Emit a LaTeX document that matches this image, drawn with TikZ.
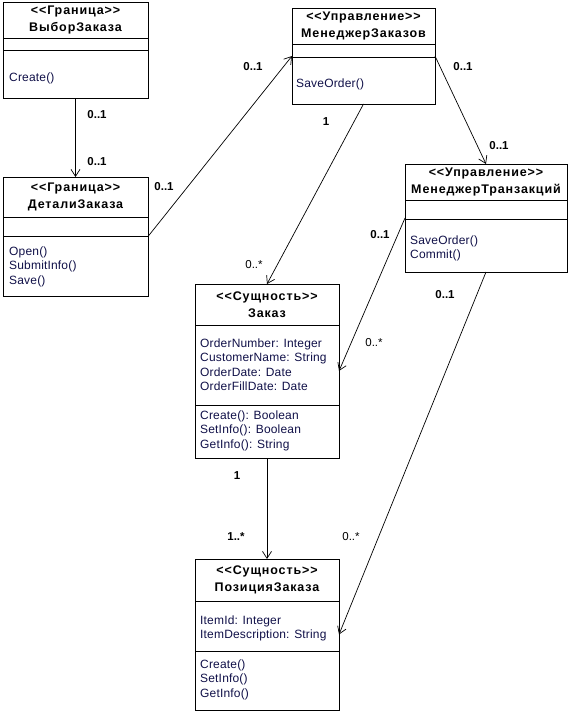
\documentclass[tikz,border=0pt]{standalone}
\usepackage{fontspec}
\setmainfont{Liberation Sans}
\newfontfamily\headfont[LetterSpace=7]{Liberation Sans}
\newfontfamily\memberfont[LetterSpace=1.5]{Liberation Sans}
\usepackage{xcolor}
\usetikzlibrary{arrows.meta, positioning, calc}
\definecolor{membertext}{RGB}{16,16,72}
\newcommand{\stereo}[1]{<{}<#1>{}>}

\begin{document}
\begin{tikzpicture}[x=1pt, y=-1pt,
        cls/.style={draw, line width=1pt, inner sep=0pt, outer sep=0pt},
        head/.style={align=center, font=\headfont\bfseries\fontsize{12.5}{17}\selectfont, inner sep=0pt},
        members/.style={anchor=north west, align=left, text=membertext, font=\memberfont\fontsize{12}{14.5}\selectfont, inner sep=0pt},
        mult/.style={font=\bfseries\fontsize{11.5}{13}\selectfont, inner sep=0pt},
        multlight/.style={font=\fontsize{11.5}{13}\selectfont, inner sep=0pt},
        assoc/.style={line width=0.7pt, -{Straight Barb[length=7pt, width=9pt]}}]
        \useasboundingbox (0,0) rectangle (569,712);

        \node[cls, minimum width=145pt, minimum height=96pt] at (75.5,50) (vz) {};
        \node[cls, minimum width=145pt, minimum height=119pt] at (75.5,236.5) (dz) {};
        \node[cls, minimum width=143pt, minimum height=96pt] at (363.5,56) (mz) {};
        \node[cls, minimum width=162pt, minimum height=108pt] at (486,218) (mt) {};
        \node[cls, minimum width=144pt, minimum height=174pt] at (267,371) (zk) {};
        \node[cls, minimum width=144pt, minimum height=151pt] at (267,634.5) (pz) {};

        \draw[line width=1pt] (vz.west |- 0,38) -- (vz.east |- 0,38);
        \draw[line width=1pt] (vz.west |- 0,50) -- (vz.east |- 0,50);
        \draw[line width=1pt] (dz.west |- 0,217) -- (dz.east |- 0,217);
        \draw[line width=1pt] (dz.west |- 0,236) -- (dz.east |- 0,236);
        \draw[line width=1pt] (mz.west |- 0,44) -- (mz.east |- 0,44);
        \draw[line width=1pt] (mz.west |- 0,57) -- (mz.east |- 0,57);
        \draw[line width=1pt] (mt.west |- 0,200) -- (mt.east |- 0,200);
        \draw[line width=1pt] (mt.west |- 0,219) -- (mt.east |- 0,219);
        \draw[line width=1pt] (zk.west |- 0,325) -- (zk.east |- 0,325);
        \draw[line width=1pt] (zk.west |- 0,405) -- (zk.east |- 0,405);
        \draw[line width=1pt] (pz.west |- 0,601) -- (pz.east |- 0,601);
        \draw[line width=1pt] (pz.west |- 0,651) -- (pz.east |- 0,651);

        \node[head] at (75.5,20) (vzh) {\stereo{Граница}\\ВыборЗаказа};
        \node[head] at (75.5,197) (dzh) {\stereo{Граница}\\ДеталиЗаказа};
        \node[head] at (363.5,26) (mzh) {\stereo{Управление}\\МенеджерЗаказов};
        \node[head] at (486,182) (mth) {\stereo{Управление}\\МенеджерТранзакций};
        \node[head] at (267,304.5) (zkh) {\stereo{Сущность}\\Заказ};
        \node[head] at (267,580) (pzh) {\stereo{Сущность}\\ПозицияЗаказа};

        \node[members] at (9,72.5) (vzo) {Create()};
        \node[members] at (9,246.5) (dzo) {Open()\\SubmitInfo()\\Save()};
        \node[members] at (296,78.5) (mzo) {SaveOrder()};
        \node[members] at (410,235.5) (mto) {SaveOrder()\\Commit()};
        \node[members] at (200,338.5) (zka) {OrderNumber: Integer\\CustomerName: String\\OrderDate: Date\\OrderFillDate: Date};
        \node[members] at (200,410.5) (zko) {Create(): Boolean\\SetInfo(): Boolean\\GetInfo(): String};
        \node[members] at (200,615.5) (pza) {ItemId: Integer\\ItemDescription: String};
        \node[members] at (200,659.5) (pzo) {Create()\\SetInfo()\\GetInfo()};

        \draw[assoc] (vz.south) -- (dz.north);
        \draw[assoc] (dz.east) -- (mz.west);
        \draw[assoc] (mz.south) -- (zk.north);
        \draw[assoc] (mz.east) -- (mt.north);
        \draw[assoc] (mt.west) -- (zk.east);
        \draw[assoc] (mt.south) -- (pz.east);
        \draw[assoc] (zk.south) -- (pz.north);

        \node[mult] at (97,115) (m1) {0..1};
        \node[mult] at (97,162) (m2) {0..1};
        \node[mult] at (164,187) (m3) {0..1};
        \node[mult] at (253,67) (m4) {0..1};
        \node[mult] at (326,122) (m5) {1};
        \node[multlight] at (254,265) (m6) {0..*};
        \node[mult] at (463,67) (m7) {0..1};
        \node[mult] at (499,146) (m8) {0..1};
        \node[mult] at (380,235) (m9) {0..1};
        \node[multlight] at (374,343) (m10) {0..*};
        \node[mult] at (445,295) (m11) {0..1};
        \node[multlight] at (351,537) (m12) {0..*};
        \node[mult] at (237,476) (m13) {1};
        \node[mult] at (236,537) (m14) {1..*};
    \end{tikzpicture}
\end{document}
